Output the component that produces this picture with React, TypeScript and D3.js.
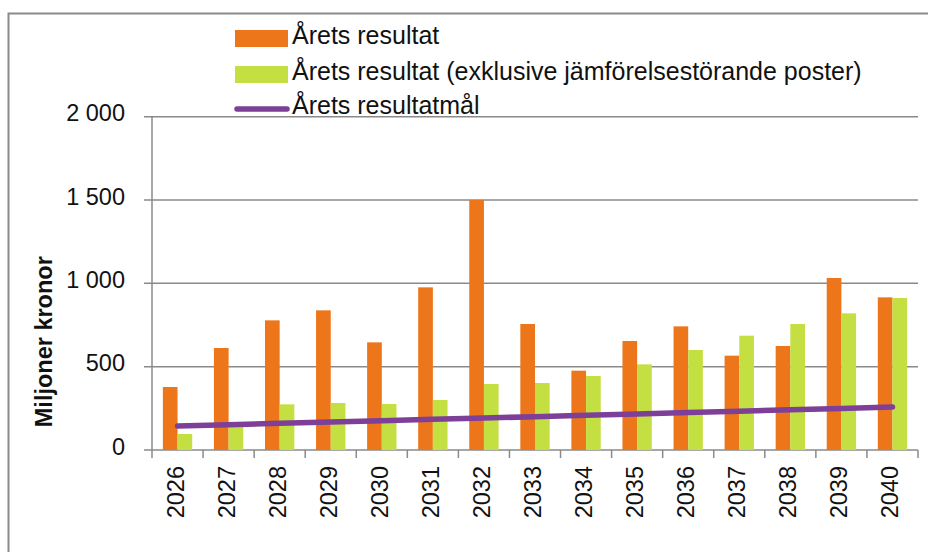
import * as d3 from "d3";

const years = ["2026", "2027", "2028", "2029", "2030", "2031", "2032", "2033", "2034", "2035", "2036", "2037", "2038", "2039", "2040"];
const resultat = [378, 612, 778, 838, 646, 976, 1500, 756, 476, 654, 742, 566, 624, 1032, 916];
const exklusive = [96, 140, 274, 282, 276, 300, 396, 402, 444, 514, 600, 686, 756, 820, 912];
const resultatmal = [144, 152, 160, 168, 176, 184, 192, 200, 208, 216, 225, 233, 241, 249, 258];
const yTicks = [0, 500, 1000, 1500, 2000];
const yTickLabels = ["0", "500", "1 000", "1 500", "2 000"];
const legendLabels = [
  "Årets resultat",
  "Årets resultat (exklusive jämförelsestörande poster)",
  "Årets resultatmål",
];

const orange = "#EE761A";
const green = "#C4DF42";
const purple = "#7E3F98";
const grey = "#8a8a8a";
const font = "'Liberation Sans', Arial, sans-serif";

export default function App() {
  const width = 928;
  const height = 552;
  const left = 152;
  const right = 918;
  const top = 116.7;
  const bottom = 450;

  const x = d3.scaleBand(years, [left, right]).padding(0);
  const inner = d3.scaleBand(["r", "e"], [0, x.bandwidth()]).paddingInner(0).paddingOuter(0.74);
  const y = d3.scaleLinear([0, 2000], [bottom, top]);

  const line = d3
    .line<number>()
    .x((d, i) => (x(years[i]) ?? 0) + x.bandwidth() / 2)
    .y((d) => y(d));

  return (
    <svg width={width} height={height} style={{ position: "absolute", left: 0, top: 0, background: "#fff" }}>
      <rect x={8.5} y={13.5} width={940} height={560} fill="#fff" stroke={grey} strokeWidth={2} />

      {/* legend */}
      <g fontFamily={font} fontSize={25} fill="#111">
        <rect x={235} y={30} width={53} height={17} fill={orange} />
        <text x={292} y={44}>{legendLabels[0]}</text>
        <rect x={235} y={66} width={53} height={17} fill={green} />
        <text x={292} y={80}>{legendLabels[1]}</text>
        <line x1={237} x2={287} y1={109} y2={109} stroke={purple} strokeWidth={5.5} strokeLinecap="round" />
        <text x={292} y={114}>{legendLabels[2]}</text>
      </g>

      {/* grid + y axis */}
      {yTicks.map((t, i) => (
        <g key={t}>
          <line x1={144} x2={right} y1={y(t)} y2={y(t)} stroke={grey} strokeWidth={1.5} />
          <text x={125} y={y(t) + 4.5} textAnchor="end" fontFamily={font} fontSize={23.5} fill="#111">
            {yTickLabels[i]}
          </text>
        </g>
      ))}
      <line x1={left} x2={left} y1={top} y2={458} stroke={grey} strokeWidth={1.5} />
      {years.map((yr) => (
        <line key={yr} x1={(x(yr) ?? 0) + x.bandwidth()} x2={(x(yr) ?? 0) + x.bandwidth()} y1={bottom} y2={458} stroke={grey} strokeWidth={1.5} />
      ))}

      {/* bars */}
      {years.map((yr, i) => (
        <g key={yr} transform={`translate(${x(yr)},0)`}>
          <rect x={inner("r")} y={y(resultat[i])} width={inner.bandwidth()} height={bottom - y(resultat[i])} fill={orange} />
          <rect x={inner("e")} y={y(exklusive[i])} width={inner.bandwidth()} height={bottom - y(exklusive[i])} fill={green} />
        </g>
      ))}

      <path d={line(resultatmal) ?? ""} fill="none" stroke={purple} strokeWidth={5.5} strokeLinecap="round" />

      {/* x labels */}
      {years.map((yr) => (
        <text
          key={yr}
          transform={`translate(${(x(yr) ?? 0) + x.bandwidth() / 2 + 6},466) rotate(-90)`}
          textAnchor="end"
          fontFamily={font}
          fontSize={23.5}
          fill="#111"
        >
          {yr}
        </text>
      ))}

      <text
        transform="translate(51.5,341.7) rotate(-90)"
        textAnchor="middle"
        fontFamily={font}
        fontSize={23.5}
        fontWeight="bold"
        fill="#111"
      >
        Miljoner kronor
      </text>
    </svg>
  );
}
